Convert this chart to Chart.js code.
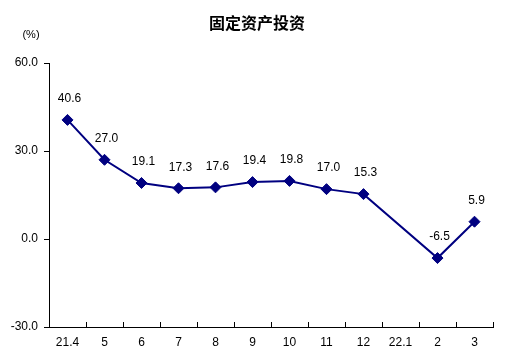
<!DOCTYPE html>
<html><head><meta charset="utf-8">
<script src="https://cdn.jsdelivr.net/npm/chart.js@4/dist/chart.umd.min.js"></script>
<style>html,body{margin:0;padding:0;background:#fff;}canvas{display:block;}</style>
</head><body>
<canvas id="c" width="514" height="359"></canvas>
<script>
const titleText = "固定资产投资";
const unitText = "(%)";
const categories = ["21.4","5","6","7","8","9","10","11","12","22.1","2","3"];
const growth = [40.6, 27.0, 19.1, 17.3, 17.6, 19.4, 19.8, 17.0, 15.3, null, -6.5, 5.9];
const yTicks = [-30, 0, 30, 60];

const numFont = "12px 'Liberation Sans', 'DejaVu Sans', sans-serif";

const decor = {
  id: 'decor',
  afterDraw(chart) {
    const ctx = chart.ctx;
    const x = chart.scales.x, y = chart.scales.y;
    ctx.save();
    ctx.fillStyle = '#000';
    ctx.font = "bold 16px 'Noto Sans CJK SC', sans-serif";
    ctx.textAlign = 'center'; ctx.textBaseline = 'middle';
    ctx.fillText(titleText, 257, 23);
    ctx.font = "11px 'Liberation Sans', sans-serif";
    ctx.fillText(unitText, 31, 35);
    ctx.strokeStyle = '#000'; ctx.lineWidth = 1;
    const bottom = y.bottom;
    const step = (x.getPixelForValue(1) - x.getPixelForValue(0));
    ctx.beginPath();
    for (let i = 0; i < categories.length; i++) {
      const px = Math.round(x.getPixelForValue(i) + step / 2) + 0.5;
      ctx.moveTo(px, bottom);
      ctx.lineTo(px, bottom - 5);
    }
    ctx.stroke();
    ctx.font = numFont;
    ctx.textAlign = 'center'; ctx.textBaseline = 'middle';
    const meta = chart.getDatasetMeta(0);
    meta.data.forEach((pt, i) => {
      const v = growth[i];
      if (v === null) return;
      ctx.fillText(v.toFixed(1), pt.x + 2, pt.y - 21);
    });
    ctx.restore();
  }
};

new Chart(document.getElementById('c'), {
  type: 'line',
  data: {
    labels: categories,
    datasets: [{
      data: growth,
      borderColor: '#000080',
      backgroundColor: '#000080',
      borderWidth: 2,
      pointStyle: 'rectRot',
      pointRadius: 5.5,
      pointBorderWidth: 1,
      spanGaps: true,
      tension: 0
    }]
  },
  options: {
    responsive: false,
    animation: false,
    events: [],
    layout: { padding: { left: 0, right: 21, top: 63, bottom: 4 } },
    plugins: { legend: { display: false }, title: { display: false }, tooltip: { enabled: false } },
    scales: {
      x: {
        offset: true,
        grid: { display: false, offset: true },
        border: { display: true, color: '#000', width: 1 },
        ticks: { color: '#000', font: { family: "'Liberation Sans', sans-serif", size: 12 }, padding: 0, maxRotation: 0, autoSkip: false },
        afterFit(s) { s.height = 28; }
      },
      y: {
        min: -30, max: 60,
        afterBuildTicks(s) { s.ticks = yTicks.map(v => ({ value: v })); },
        grid: { drawOnChartArea: false, drawTicks: true, tickLength: 5, color: '#000' },
        border: { display: true, color: '#000', width: 1 },
        ticks: { color: '#000', font: { family: "'Liberation Sans', sans-serif", size: 12 }, padding: 6, callback: v => Number(v).toFixed(1) },
        afterFit(s) { s.width = 49; }
      }
    }
  },
  plugins: [decor]
});
</script>
</body></html>
